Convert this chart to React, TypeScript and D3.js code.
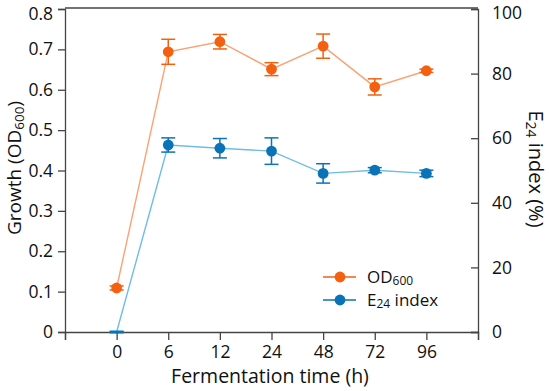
import React, { useEffect, useRef } from 'react';
import * as d3 from 'd3';

const times = ['0', '6', '12', '24', '48', '72', '96'];
const odValues = [0.109, 0.694, 0.719, 0.651, 0.708, 0.607, 0.647];
const odErrors = [0.005, 0.031, 0.018, 0.016, 0.03, 0.02, 0.004];
const e24Values = [0, 57.9, 56.9, 56.0, 49.1, 50.1, 49.1];
const e24Errors = [0, 2.2, 3.0, 4.1, 3.0, 0.8, 1.0];
const leftTicks = [0, 0.1, 0.2, 0.3, 0.4, 0.5, 0.6, 0.7, 0.8];
const rightTicks = [0, 20, 40, 60, 80, 100];

const FONT = '"Open Sans", "Noto Sans", sans-serif';
const ORANGE = '#f4600f';
const ORANGE_LINE = '#f9a274';
const BLUE = '#0a73b8';
const BLUE_LINE = '#6fbde6';

const App = () => {
    const svgRef = useRef(null);

    useEffect(() => {
        const svg = d3.select(svgRef.current);
        svg.selectAll('*').remove();
        const width = 550;
        const height = 391;
        const margin = { top: 9, right: 72, bottom: 59, left: 65 };
        const x0 = margin.left;
        const x1 = width - margin.right;
        const y0 = height - margin.bottom;
        const y1 = margin.top;

        // x positions: an empty slot on each side of the time points
        const slots = ['', ...times, ' '];
        const xScale = d3.scalePoint().domain(slots).range([x0, x1]);
        const yLeft = d3.scaleLinear().domain([0, 0.8]).range([y0, y1]);
        const yRight = d3.scaleLinear().domain([0, 100]).range([y0, y1]);

        const axisColor = '#444';

        // frame top
        svg.append('line')
            .attr('x1', x0).attr('x2', x1).attr('y1', y1 - 1).attr('y2', y1 - 1)
            .attr('stroke', axisColor).attr('stroke-width', 1.3);

        const styleAxis = (g) => {
            g.select('.domain').attr('stroke', axisColor).attr('stroke-width', 1.3);
            g.selectAll('.tick line').attr('stroke', axisColor).attr('stroke-width', 1.3);
            g.selectAll('.tick text').attr('fill', '#111').style('font-family', FONT).style('font-size', '17.5px');
        };

        svg.append('g')
            .attr('transform', `translate(0,${y0})`)
            .call(d3.axisBottom(xScale).tickSizeOuter(0).tickSize(8).tickPadding(6))
            .call(styleAxis);

        const gl = svg.append('g')
            .attr('transform', `translate(${x0},0)`)
            .call(d3.axisLeft(yLeft).tickValues(leftTicks).tickFormat(d3.format('~g')).tickSizeOuter(0).tickSize(7).tickPadding(5))
            .call(styleAxis);
        // top label sits a little lower, as in the source image
        gl.selectAll('.tick text').filter((d) => d === 0.8).attr('dy', '0.62em');

        const gr = svg.append('g')
            .attr('transform', `translate(${x1},0)`)
            .call(d3.axisRight(yRight).tickValues(rightTicks).tickSizeOuter(0).tickSize(-7).tickPadding(14))
            .call(styleAxis);
        gr.selectAll('.tick text').filter((d) => d === 100).attr('dy', '0.55em');

        const drawSeries = (values, errors, yScale, color, lineColor) => {
            const pts = values.map((v, i) => ({ t: times[i], v, e: errors[i] }));
            svg.append('path')
                .datum(pts)
                .attr('fill', 'none')
                .attr('stroke', lineColor)
                .attr('stroke-width', 1.4)
                .attr('d', d3.line().x((d) => xScale(d.t)).y((d) => yScale(d.v)));

            const eb = svg.append('g').selectAll('g').data(pts).enter().append('g')
                .attr('stroke', color).attr('stroke-width', 1.5);
            eb.append('line')
                .attr('x1', (d) => xScale(d.t)).attr('x2', (d) => xScale(d.t))
                .attr('y1', (d) => yScale(d.v - d.e)).attr('y2', (d) => yScale(d.v + d.e));
            eb.append('line')
                .attr('x1', (d) => xScale(d.t) - 7).attr('x2', (d) => xScale(d.t) + 7)
                .attr('y1', (d) => yScale(d.v + d.e)).attr('y2', (d) => yScale(d.v + d.e))
                .attr('stroke-width', (d) => (d.v === 0 ? 3 : 1.5));
            eb.append('line')
                .attr('x1', (d) => xScale(d.t) - 7).attr('x2', (d) => xScale(d.t) + 7)
                .attr('y1', (d) => yScale(d.v - d.e)).attr('y2', (d) => yScale(d.v - d.e));

            svg.append('g').selectAll('circle')
                .data(pts.filter((d) => d.v > 0))
                .enter()
                .append('circle')
                .attr('cx', (d) => xScale(d.t))
                .attr('cy', (d) => yScale(d.v))
                .attr('r', 5.4)
                .attr('fill', color);
        };

        drawSeries(odValues, odErrors, yLeft, ORANGE, ORANGE_LINE);
        drawSeries(e24Values, e24Errors, yRight, BLUE, BLUE_LINE);

        // legend
        const legend = [
            { name: 'OD', sub: '600', after: '', color: ORANGE, lineColor: ORANGE_LINE },
            { name: 'E', sub: '24', after: ' index', color: BLUE, lineColor: BLUE_LINE },
        ];
        legend.forEach((d, i) => {
            const ly = 277 + i * 23;
            const g = svg.append('g');
            g.append('line').attr('x1', 323).attr('x2', 356).attr('y1', ly).attr('y2', ly)
                .attr('stroke', d.color).attr('stroke-width', 1.6);
            g.append('circle').attr('cx', 340).attr('cy', ly).attr('r', 5.4).attr('fill', d.color);
            const t = g.append('text').attr('x', 367).attr('y', ly + 6)
                .style('font-family', FONT).style('font-size', '17px').attr('fill', '#111');
            t.append('tspan').text(d.name);
            t.append('tspan').attr('dy', 2).style('font-size', '12px').text(d.sub);
            t.append('tspan').attr('dy', -2).text(d.after);
        });

        // x-axis label
        svg.append('text')
            .attr('x', 270)
            .attr('y', 383)
            .style('text-anchor', 'middle')
            .style('font-family', FONT).style('font-size', '19.5px').attr('fill', '#111')
            .text('Fermentation time (h)');

        // left y-axis label
        const lt = svg.append('text')
            .attr('transform', `translate(21,168) rotate(-90)`)
            .style('text-anchor', 'middle')
            .style('font-family', FONT).style('font-size', '19px').attr('fill', '#111');
        lt.append('tspan').text('Growth (OD');
        lt.append('tspan').attr('dy', 3).style('font-size', '13.5px').text('600');
        lt.append('tspan').attr('dy', -3).text(')');

        // right y-axis label
        const rt = svg.append('text')
            .attr('transform', `translate(529,169) rotate(90)`)
            .style('text-anchor', 'middle')
            .style('font-family', FONT).style('font-size', '20px').attr('fill', '#111');
        rt.append('tspan').text('E');
        rt.append('tspan').attr('dy', 3).style('font-size', '14px').text('24');
        rt.append('tspan').attr('dy', -3).text(' index (%)');
    }, []);

    return (
        <svg ref={svgRef} width={550} height={391}
            style={{ position: 'absolute', left: 0, top: 0, background: '#fff' }} />
    );
};

export default App;
